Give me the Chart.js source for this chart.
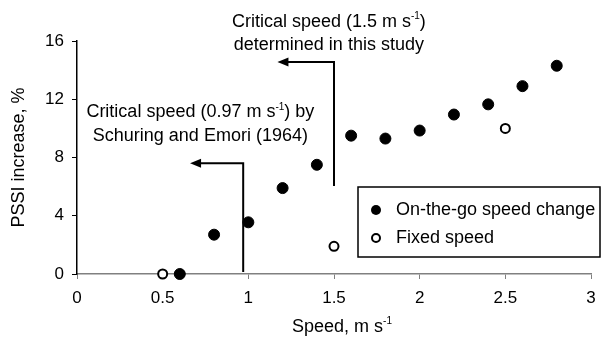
<!DOCTYPE html>
<html>
<head>
<meta charset="utf-8">
<script src="https://cdn.jsdelivr.net/npm/chart.js@4/dist/chart.umd.min.js"></script>
<style>
  html, body { margin: 0; padding: 0; background: #fff; }
  #wrap { width: 602px; height: 343px; }
</style>
</head>
<body>
<div id="wrap"><canvas id="chart"></canvas></div>
<script>
const onTheGoSpeed = [0.6, 0.8, 1.0, 1.2, 1.4, 1.6, 1.8, 2.0, 2.2, 2.4, 2.6, 2.8];
const onTheGoPssi = [0, 2.7, 3.55, 5.9, 7.5, 9.5, 9.3, 9.85, 10.95, 11.65, 12.9, 14.3];
const fixedSpeed = [0.5, 1.5, 2.5];
const fixedPssi = [0, 1.9, 10.0];
const seriesLabels = ["On-the-go speed change", "Fixed speed"];

// critical speed markers (speed units / PSSI units)
const critSpeed = [0.97, 1.5];
const critLineFrom = [0, 5.9];
const critLineTo = [7.6, 14.55];
const critArrowTo = [0.66, 1.17];
const critNoteX = [0.72, 1.47];
const critNoteY = [[11.1, 9.5], [17.3, 15.7]];
// odd entries are superscripts
const critNotes = [
  [["Critical speed (0.97 m s", "-1", ") by"], ["Schuring and Emori (1964)"]],
  [["Critical speed (1.5 m s", "-1", ")"], ["determined in this study"]]
];
const xTitle = ["Speed, m s", "-1"];
const yTitle = "PSSI increase, %";

const FONT = '"Liberation Sans", Arial, sans-serif';
Chart.defaults.font.family = FONT;
Chart.defaults.color = "#000";

function richText(ctx, parts, cx, cy, size) {
  const big = size + "px " + FONT;
  const small = Math.round(size * 0.55) + "px " + FONT;
  const widths = parts.map((t, k) => {
    ctx.font = k % 2 ? small : big;
    return ctx.measureText(t).width;
  });
  let xx = cx - widths.reduce((a, b) => a + b, 0) / 2;
  ctx.textAlign = "left";
  ctx.textBaseline = "middle";
  parts.forEach((t, k) => {
    ctx.font = k % 2 ? small : big;
    ctx.fillText(t, xx, k % 2 ? cy - size * 0.3 : cy);
    xx += widths[k];
  });
}

const notesPlugin = {
  id: "notes",
  afterDraw(chart) {
    const { ctx, scales: { x, y } } = chart;
    ctx.save();
    ctx.strokeStyle = "#000";
    ctx.fillStyle = "#000";
    ctx.lineWidth = 2;
    critSpeed.forEach((s, i) => {
      const px = x.getPixelForValue(s);
      const yb = y.getPixelForValue(critLineFrom[i]) - 2;
      const yt = y.getPixelForValue(critLineTo[i]);
      const ax = x.getPixelForValue(critArrowTo[i]);
      ctx.beginPath();
      ctx.moveTo(px, yb);
      ctx.lineTo(px, yt);
      ctx.lineTo(ax + 6, yt);
      ctx.stroke();
      ctx.beginPath();
      ctx.moveTo(ax, yt);
      ctx.lineTo(ax + 11, yt - 4.5);
      ctx.lineTo(ax + 11, yt + 4.5);
      ctx.closePath();
      ctx.fill();
      critNotes[i].forEach((line, j) => {
        richText(ctx, line, x.getPixelForValue(critNoteX[i]), y.getPixelForValue(critNoteY[i][j]), 18);
      });
    });

    // x axis title
    richText(ctx, xTitle, 342, 327, 18);

    // legend box
    ctx.lineWidth = 1.5;
    ctx.strokeRect(358, 187, 242, 70);
    chart.data.datasets.forEach((ds, i) => {
      const ly = 210 + i * 28;
      ctx.beginPath();
      ctx.arc(376, ly, i ? 4 : 5, 0, Math.PI * 2);
      ctx.fillStyle = ds.backgroundColor;
      ctx.fill();
      ctx.lineWidth = ds.borderWidth;
      ctx.strokeStyle = "#000";
      if (i) ctx.stroke();
      ctx.fillStyle = "#000";
      ctx.font = "18px " + FONT;
      ctx.textAlign = "left";
      ctx.textBaseline = "middle";
      ctx.fillText(ds.label, 396, ly);
    });
    ctx.restore();
  }
};

new Chart(document.getElementById("chart"), {
  type: "scatter",
  data: {
    datasets: [
      {
        label: seriesLabels[0],
        data: onTheGoSpeed.map((v, i) => ({ x: v, y: onTheGoPssi[i] })),
        backgroundColor: "#000",
        borderColor: "#000",
        borderWidth: 1,
        pointRadius: 5.5,
        clip: false,
      },
      {
        label: seriesLabels[1],
        data: fixedSpeed.map((v, i) => ({ x: v, y: fixedPssi[i] })),
        backgroundColor: "#fff",
        borderColor: "#000",
        borderWidth: 2,
        pointRadius: 4.5,
        clip: false,
      },
    ],
  },
  options: {
    responsive: true,
    maintainAspectRatio: false,
    animation: false,
    layout: { padding: { top: 41, right: 11, left: 0, bottom: 0 } },
    plugins: {
      legend: { display: false },
      tooltip: { enabled: false },
    },
    scales: {
      x: {
        type: "linear",
        min: 0,
        max: 3,
        ticks: { stepSize: 0.5, padding: 9, font: { size: 17 }, callback: (v) => String(v) },
        grid: { drawOnChartArea: false, drawTicks: true, tickLength: 5, color: "#808080" },
        border: { color: "#808080", width: 1.5 },
        afterFit: (scale) => {
          scale.height = 69;
          scale.paddingLeft = 0;
          scale.paddingRight = 0;
        },
      },
      y: {
        min: 0,
        max: 16,
        ticks: { stepSize: 4, padding: 8, font: { size: 17 } },
        grid: { drawOnChartArea: false, drawTicks: true, tickLength: 5, color: "#000" },
        border: { color: "#000", width: 1.5 },
        title: { display: true, text: yTitle, font: { size: 18 }, padding: { top: 8 } },
        afterFit: (scale) => { scale.width = 77; },
      },
    },
  },
  plugins: [notesPlugin],
});
</script>
</body>
</html>
